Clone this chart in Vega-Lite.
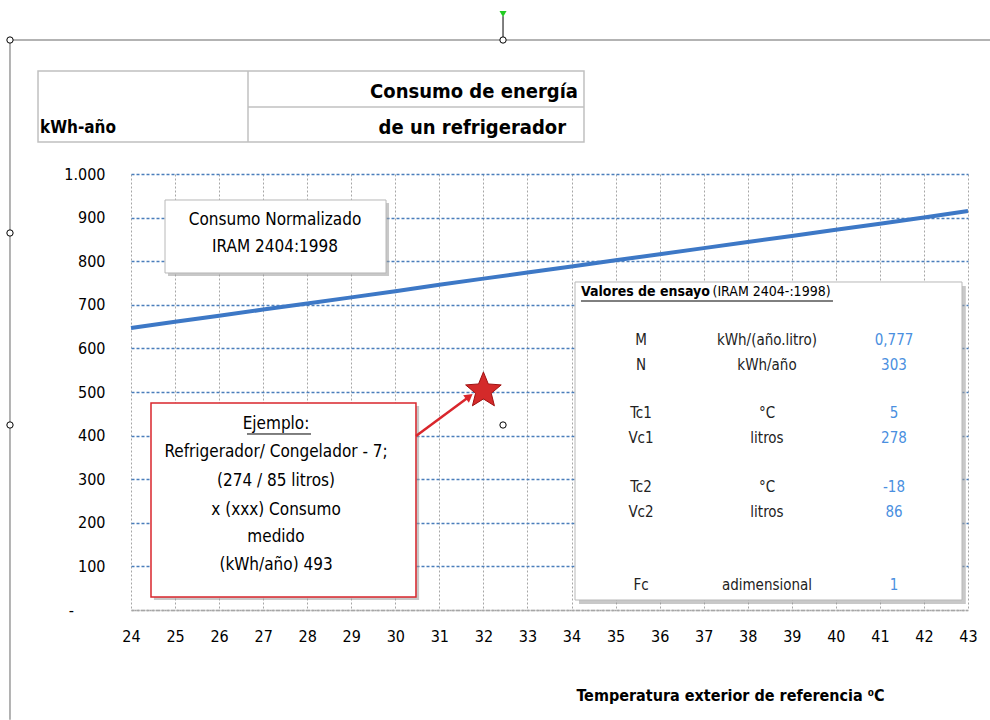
{
  "$schema": "https://vega.github.io/schema/vega-lite/v6.json",
  "width": 837,
  "height": 436,
  "autosize": {"type": "none"},
  "padding": {"left": 131, "top": 174, "right": 22, "bottom": 110},
  "background": "white",
  "config": {
    "font": "Liberation Sans Narrow, DejaVu Sans Condensed, Lato",
    "view": {"stroke": null}
  },
  "layer": [
    {
      "data": {"values": [
        {"temp": 24, "consumo": 647}, {"temp": 25, "consumo": 661}, {"temp": 26, "consumo": 675},
        {"temp": 27, "consumo": 689}, {"temp": 28, "consumo": 703}, {"temp": 29, "consumo": 717},
        {"temp": 30, "consumo": 731}, {"temp": 31, "consumo": 746}, {"temp": 32, "consumo": 760},
        {"temp": 33, "consumo": 774}, {"temp": 34, "consumo": 788}, {"temp": 35, "consumo": 802},
        {"temp": 36, "consumo": 816}, {"temp": 37, "consumo": 830}, {"temp": 38, "consumo": 844},
        {"temp": 39, "consumo": 858}, {"temp": 40, "consumo": 872}, {"temp": 41, "consumo": 886},
        {"temp": 42, "consumo": 900}, {"temp": 43, "consumo": 915}
      ]},
      "mark": {"type": "line", "color": "#3d78c6", "strokeWidth": 4},
      "encoding": {
        "x": {
          "field": "temp", "type": "quantitative",
          "scale": {"domain": [24, 43], "nice": false, "zero": false},
          "axis": {
            "values": [24,25,26,27,28,29,30,31,32,33,34,35,36,37,38,39,40,41,42,43],
            "format": "d",
            "title": "Temperatura exterior de referencia ⁰C",
            "titleFontSize": 16, "titleFontWeight": "bold", "titleColor": "#000",
            "titleX": 599, "titleY": 85, "titleAlign": "center", "titleBaseline": "middle",
            "grid": true, "gridColor": "#a6a6a6", "gridDash": [2, 2], "gridWidth": 1,
            "domain": true, "domainColor": "#a6a6a6", "domainDash": [2, 1], "domainWidth": 1.5,
            "ticks": false, "labelFontSize": 16, "labelColor": "#000", "labelPadding": 18,
            "labelFlush": false
          }
        },
        "y": {
          "field": "consumo", "type": "quantitative",
          "scale": {"domain": [0, 1000], "nice": false},
          "axis": {
            "values": [0,100,200,300,400,500,600,700,800,900,1000],
            "labelExpr": "datum.value == 0 ? '-\u2800\u2800\u2800' : datum.value == 1000 ? '1.000' : datum.label",
            "title": null, "domain": false, "ticks": false,
            "labelPadding": 26, "labelFontSize": 16, "labelColor": "#000",
            "grid": true,
            "gridColor": {"condition": {"test": "datum.value == 0", "value": "#a6a6a6"}, "value": "#4a7ebb"},
            "gridDash": [3, 2], "gridWidth": 1.5
          }
        }
      }
    },
    {
      "data": {"values": [
        {"x": 24.84, "x2": 29.857, "y": 766, "y2": 933.5},
        {"x": 34.17, "x2": 42.95, "y": 13.8, "y2": 743},
        {"x": 24.52, "x2": 30.54, "y": 22.9, "y2": 467.9}
      ]},
      "mark": {"type": "rect", "fill": "#9a9a9a", "opacity": 0.55},
      "encoding": {
        "x": {"field": "x", "type": "quantitative"}, "x2": {"field": "x2"},
        "y": {"field": "y", "type": "quantitative"}, "y2": {"field": "y2"}
      }
    },
    {
      "data": {"values": [
        {"x": 24.772, "x2": 29.789, "y": 773, "y2": 940.4},
        {"x": 34.079, "x2": 42.864, "y": 22.9, "y2": 752.3}
      ]},
      "mark": {"type": "rect", "fill": "white", "stroke": "#b8b8b8", "strokeWidth": 1},
      "encoding": {
        "x": {"field": "x", "type": "quantitative"}, "x2": {"field": "x2"},
        "y": {"field": "y", "type": "quantitative"}, "y2": {"field": "y2"}
      }
    },
    {
      "data": {"values": [{"x": 24.454, "x2": 30.469, "y": 29.8, "y2": 474.8}]},
      "mark": {"type": "rect", "fill": "white", "stroke": "#d9262c", "strokeWidth": 1.5},
      "encoding": {
        "x": {"field": "x", "type": "quantitative"}, "x2": {"field": "x2"},
        "y": {"field": "y", "type": "quantitative"}, "y2": {"field": "y2"}
      }
    },
    {
      "data": {"values": [{"x": 21.889, "x2": 34.283, "y": 1073.4, "y2": 1236.2}]},
      "mark": {"type": "rect", "fill": null, "fillOpacity": 0, "stroke": "#c0c0c0", "strokeWidth": 1.5},
      "encoding": {
        "x": {"field": "x", "type": "quantitative"}, "x2": {"field": "x2"},
        "y": {"field": "y", "type": "quantitative"}, "y2": {"field": "y2"}
      }
    },
    {
      "data": {"values": [
        {"x": 26.656, "x2": 26.656, "y": 1073.4, "y2": 1236.2},
        {"x": 26.656, "x2": 34.283, "y": 1153.7, "y2": 1153.7}
      ]},
      "mark": {"type": "rule", "color": "#c0c0c0", "strokeWidth": 1.5},
      "encoding": {
        "x": {"field": "x", "type": "quantitative"}, "x2": {"field": "x2"},
        "y": {"field": "y", "type": "quantitative"}, "y2": {"field": "y2"}
      }
    },
    {
      "data": {"values": [
        {"x": 34.147, "y": 1188, "t": "Consumo de energía"},
        {"x": 33.875, "y": 1105.5, "t": "de un refrigerador"}
      ]},
      "mark": {"type": "text", "align": "right", "baseline": "middle", "fontSize": 20, "fontWeight": "bold", "color": "#000"},
      "encoding": {
        "x": {"field": "x", "type": "quantitative"},
        "y": {"field": "y", "type": "quantitative"},
        "text": {"field": "t"}
      }
    },
    {
      "data": {"values": [{"x": 21.934, "y": 1105.5, "t": "kWh-año"}]},
      "mark": {"type": "text", "align": "left", "baseline": "middle", "fontSize": 17, "fontWeight": "bold", "color": "#000"},
      "encoding": {
        "x": {"field": "x", "type": "quantitative"},
        "y": {"field": "y", "type": "quantitative"},
        "text": {"field": "t"}
      }
    },
    {
      "data": {"values": [
        {"x": 27.269, "y": 894.5, "t": "Consumo Normalizado"},
        {"x": 27.269, "y": 832.6, "t": "IRAM 2404:1998"}
      ]},
      "mark": {"type": "text", "align": "center", "baseline": "middle", "fontSize": 17, "color": "#000"},
      "encoding": {
        "x": {"field": "x", "type": "quantitative"},
        "y": {"field": "y", "type": "quantitative"},
        "text": {"field": "t"}
      }
    },
    {
      "data": {"values": [{"x": 34.215, "y": 729.4, "t": "Valores de ensayo"}]},
      "mark": {"type": "text", "align": "left", "baseline": "middle", "fontSize": 14, "fontWeight": "bold", "color": "#000"},
      "encoding": {
        "x": {"field": "x", "type": "quantitative"},
        "y": {"field": "y", "type": "quantitative"},
        "text": {"field": "t"}
      }
    },
    {
      "data": {"values": [{"x": 37.2, "y": 729.4, "t": "(IRAM 2404-:1998)"}]},
      "mark": {"type": "text", "align": "left", "baseline": "middle", "fontSize": 14, "color": "#000"},
      "encoding": {
        "x": {"field": "x", "type": "quantitative"},
        "y": {"field": "y", "type": "quantitative"},
        "text": {"field": "t"}
      }
    },
    {
      "data": {"values": [
        {"x": 34.215, "x2": 39.935, "y": 708.7},
        {"x": 26.633, "x2": 28.086, "y": 403.7}
      ]},
      "mark": {"type": "rule", "color": "#000", "strokeWidth": 1},
      "encoding": {
        "x": {"field": "x", "type": "quantitative"}, "x2": {"field": "x2"},
        "y": {"field": "y", "type": "quantitative"}
      }
    },
    {
      "data": {"values": [
        {"x": 35.577, "y": 619.3, "t": "M"}, {"x": 38.437, "y": 619.3, "t": "kWh/(año.litro)"},
        {"x": 35.577, "y": 561.9, "t": "N"}, {"x": 38.437, "y": 561.9, "t": "kWh/año"},
        {"x": 35.577, "y": 451.8, "t": "Tc1"}, {"x": 38.437, "y": 451.8, "t": "°C"},
        {"x": 35.577, "y": 394.5, "t": "Vc1"}, {"x": 38.437, "y": 394.5, "t": "litros"},
        {"x": 35.577, "y": 282.1, "t": "Tc2"}, {"x": 38.437, "y": 282.1, "t": "°C"},
        {"x": 35.577, "y": 224.8, "t": "Vc2"}, {"x": 38.437, "y": 224.8, "t": "litros"},
        {"x": 35.577, "y": 57.3, "t": "Fc"}, {"x": 38.437, "y": 57.3, "t": "adimensional"}
      ]},
      "mark": {"type": "text", "align": "center", "baseline": "middle", "fontSize": 15, "color": "#222"},
      "encoding": {
        "x": {"field": "x", "type": "quantitative"},
        "y": {"field": "y", "type": "quantitative"},
        "text": {"field": "t"}
      }
    },
    {
      "data": {"values": [
        {"x": 41.32, "y": 619.3, "t": "0,777"},
        {"x": 41.32, "y": 561.9, "t": "303"},
        {"x": 41.32, "y": 451.8, "t": "5"},
        {"x": 41.32, "y": 394.5, "t": "278"},
        {"x": 41.32, "y": 282.1, "t": "-18"},
        {"x": 41.32, "y": 224.8, "t": "86"},
        {"x": 41.32, "y": 57.3, "t": "1"}
      ]},
      "mark": {"type": "text", "align": "center", "baseline": "middle", "fontSize": 15, "color": "#4a8fe0"},
      "encoding": {
        "x": {"field": "x", "type": "quantitative"},
        "y": {"field": "y", "type": "quantitative"},
        "text": {"field": "t"}
      }
    },
    {
      "data": {"values": [
        {"x": 27.292, "y": 426.6, "t": "Ejemplo:"},
        {"x": 27.292, "y": 362.4, "t": "Refrigerador/ Congelador - 7;"},
        {"x": 27.292, "y": 295.9, "t": "(274 / 85 litros)"},
        {"x": 27.292, "y": 229.4, "t": "x (xxx) Consumo"},
        {"x": 27.292, "y": 167.4, "t": "medido"},
        {"x": 27.292, "y": 103.2, "t": "(kWh/año) 493"}
      ]},
      "mark": {"type": "text", "align": "center", "baseline": "middle", "fontSize": 17, "color": "#000"},
      "encoding": {
        "x": {"field": "x", "type": "quantitative"},
        "y": {"field": "y", "type": "quantitative"},
        "text": {"field": "t"}
      }
    },
    {
      "data": {"values": [{"x": 30.469, "x2": 31.62, "y": 399.1, "y2": 485}]},
      "mark": {"type": "rule", "color": "#d9262c", "strokeWidth": 2.5},
      "encoding": {
        "x": {"field": "x", "type": "quantitative"}, "x2": {"field": "x2"},
        "y": {"field": "y", "type": "quantitative"}, "y2": {"field": "y2"}
      }
    },
    {
      "data": {"values": [{"x": 31.68, "y": 489.5}]},
      "mark": {"type": "point", "shape": "triangle-up", "angle": 53, "size": 90, "filled": true, "color": "#d9262c", "opacity": 1},
      "encoding": {
        "x": {"field": "x", "type": "quantitative"},
        "y": {"field": "y", "type": "quantitative"}
      }
    },
    {
      "data": {"values": [{"temp": 32, "consumo": 503}]},
      "mark": {"type": "point", "shape": "M0,-1 L0.26,-0.36 L0.951,-0.309 L0.42,0.14 L0.588,0.809 L0,0.44 L-0.588,0.809 L-0.42,0.14 L-0.951,-0.309 L-0.26,-0.36 Z", "size": 1400, "filled": true, "fill": "#d42a2a", "stroke": "#a01010", "strokeWidth": 1, "opacity": 1},
      "encoding": {
        "x": {"field": "temp", "type": "quantitative"},
        "y": {"field": "consumo", "type": "quantitative"}
      }
    },
    {
      "data": {"values": [
        {"x": 21.253, "x2": 43.5, "y": 1307.3, "y2": 1307.3},
        {"x": 21.253, "x2": 21.253, "y": 1307.3, "y2": -252}
      ]},
      "mark": {"type": "rule", "color": "#9a9a9a", "strokeWidth": 1.5},
      "encoding": {
        "x": {"field": "x", "type": "quantitative"}, "x2": {"field": "x2"},
        "y": {"field": "y", "type": "quantitative"}, "y2": {"field": "y2"}
      }
    },
    {
      "data": {"values": [{"x": 32.445, "y": 1307.3, "y2": 1362}]},
      "mark": {"type": "rule", "color": "#000", "strokeWidth": 1},
      "encoding": {
        "x": {"field": "x", "type": "quantitative"},
        "y": {"field": "y", "type": "quantitative"}, "y2": {"field": "y2"}
      }
    },
    {
      "data": {"values": [{"x": 32.445, "y": 1367}]},
      "mark": {"type": "point", "shape": "triangle-down", "size": 50, "filled": true, "color": "#22cc22", "opacity": 1},
      "encoding": {
        "x": {"field": "x", "type": "quantitative"},
        "y": {"field": "y", "type": "quantitative"}
      }
    },
    {
      "data": {"values": [
        {"x": 21.253, "y": 1307.3}, {"x": 21.253, "y": 864.7}, {"x": 21.253, "y": 424.3},
        {"x": 32.445, "y": 1307.3}, {"x": 32.445, "y": 424.3}
      ]},
      "mark": {"type": "point", "shape": "circle", "size": 40, "filled": true, "fill": "white", "stroke": "#000", "strokeWidth": 1, "opacity": 1},
      "encoding": {
        "x": {"field": "x", "type": "quantitative"},
        "y": {"field": "y", "type": "quantitative"}
      }
    }
  ]
}
